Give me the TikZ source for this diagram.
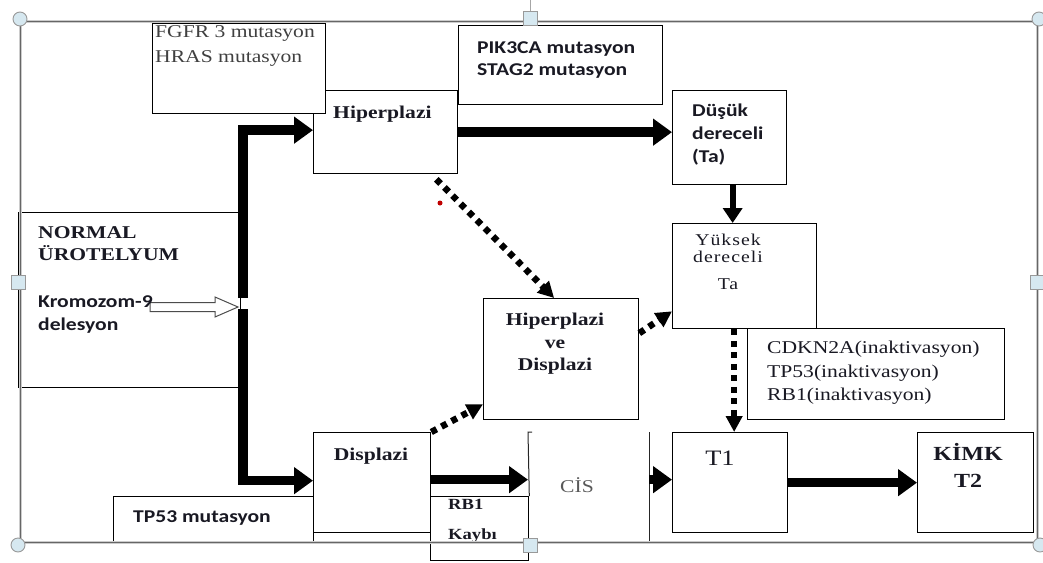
\documentclass[tikz,border=0pt]{standalone}
\usepackage{fontspec}
\setmainfont{Liberation Serif}[FakeStretch=1.2]
\newfontfamily\calib{Carlito}[FakeStretch=1.2]
\newfontfamily\wideserif{Liberation Serif}[FakeStretch=1.2, LetterSpace=6]
\usetikzlibrary{arrows.meta}
\definecolor{handlefill}{RGB}{214,232,240}
\definecolor{inkcol}{RGB}{25,25,35}

\begin{document}
\begin{tikzpicture}[x=1pt, y=-1pt,
		box/.style={draw=black, line width=1.3pt, fill=white, anchor=north west, inner sep=0pt},
		serif/.style={inner sep=0pt, text=inkcol, font=\fontsize{18}{23}\selectfont, align=left},
		serifbold/.style={serif, font=\fontsize{18}{22.5}\selectfont\bfseries},
		sans/.style={serif, font=\calib\bfseries\fontsize{18}{23}\selectfont},
		bigarrow/.style={line width=9.5pt, -{Triangle[length=19pt, width=26pt]}},
		midarrow/.style={line width=6pt, -{Triangle[length=15pt, width=19pt]}},
		dotarrow/.style={line width=6.5pt, dash pattern=on 6pt off 5.5pt, -{Triangle[length=16pt, width=16pt]}},
		handle/.style={draw=gray!80, fill=handlefill, line width=0.9pt}]
			\useasboundingbox (0,0) rectangle (1043,562);
			\node[box, minimum width=144pt, minimum height=83pt] (hip) at (313,90) {};
			\node[box, minimum width=173pt, minimum height=90pt] (fgfr) at (152,23) {};
			\node[box, minimum width=204pt, minimum height=79pt] (pik) at (458,25) {};
			\node[box, minimum width=114pt, minimum height=94pt] (dus) at (672,90) {};
			\node[box, minimum width=144pt, minimum height=105pt] (yuk) at (672,223) {};
			\node[box, minimum width=257pt, minimum height=91pt] (cdk) at (747,328) {};
			\node[box, minimum width=222pt, minimum height=175pt] (normal) at (18,212) {};
			\node[box, minimum width=155pt, minimum height=121pt] (hvd) at (483,298) {};
			\node[box, minimum width=117pt, minimum height=100pt] (dis) at (313,432) {};
			\node[box, minimum width=200pt, minimum height=47pt] (tp) at (113,496) {};
			\node[box, minimum width=98pt, minimum height=64pt] (rb) at (430,496) {};
			\node[anchor=north west, inner sep=0pt, minimum width=121pt, minimum height=111pt] (cis) at (528,432) {};
			\node[box, minimum width=115pt, minimum height=100pt] (tone) at (672,432) {};
			\node[box, minimum width=116pt, minimum height=100pt] (kimk) at (917,432) {};
			\draw[line width=1pt, black!85] ([xshift=4pt]cis.north west) -- (cis.north west) -- (rb.north east);
			\draw[line width=1pt, black!85] (cis.south west) -- (cis.south east) -- (cis.north east);
			\coordinate (forkup) at (243,298);
			\coordinate (forkdown) at (243,309);
			\coordinate (kromtip) at (238,307);
			\draw[bigarrow] (forkup) |- ([yshift=2pt]hip.west);
			\draw[bigarrow] (forkdown) |- ([yshift=2pt]dis.west);
			\draw[line width=1pt, black!70, fill=white] (kromtip) -- ++(-23,-10) -- ++(0,5.5) -- ++(-65,0) -- ++(0,9) -- ++(65,0) -- ++(0,5.5) -- cycle;
			\draw[bigarrow] (hip.east) -- (hip.east -| dus.west);
			\draw[midarrow] ([xshift=3pt]dus.south) -- ([xshift=3pt]dus.south |- yuk.north);
			\draw[bigarrow] ([yshift=3pt]dis.east) -- ([yshift=3pt]dis.east -| cis.west);
			\draw[bigarrow] ([yshift=3pt]dis.east -| cis.east) -- ([yshift=3pt]dis.east -| tone.west);
			\draw[bigarrow] (tone.east) -- (kimk.west);
			\draw[dotarrow] ([xshift=-22pt, yshift=-5pt]hip.south east) -- ([xshift=-7pt]hvd.north);
			\draw[dotarrow] (dis.north east) -- ([yshift=16pt]hvd.south west);
			\draw[dotarrow] ([yshift=26pt]hvd.east) -- ([yshift=18pt]yuk.south west);
			\draw[dotarrow] ([xshift=4pt]tone.north |- yuk.south) -- ([xshift=4pt]tone.north);
			\fill[red!75!black] (440,203) circle (2.5pt);
			\node[serif, text=black!75, anchor=north west, font=\fontsize{18}{25}\selectfont] (fgfrtxt) at (155,25) {FGFR 3 mutasyon\\HRAS mutasyon};
			\node[serifbold, anchor=base west] (hiptxt) at (333,118) {Hiperplazi};
			\node[sans, anchor=north west, font=\calib\bfseries\fontsize{18}{22}\selectfont] (piktxt) at (477,41) {PIK3CA mutasyon\\STAG2 mutasyon};
			\node[sans, anchor=north west] (dustxt) at (692,104) {Düşük\\dereceli\\(Ta)};
			\node[serif, anchor=north, align=center, font=\wideserif\fontsize{16.5}{17}\selectfont] (yuktxt) at (728,234) {Yüksek\\dereceli\\[10pt]Ta};
			\node[serifbold, anchor=north west, font=\fontsize{18}{22}\selectfont\bfseries] (normaltxt) at (38,226) {NORMAL\\ÜROTELYUM};
			\node[sans, anchor=north west] (kromtxt) at (38,295) {Kromozom-9\\delesyon};
			\node[serifbold, anchor=north, align=center] (hvdtxt) at (555,313) {Hiperplazi\\ve\\Displazi};
			\node[serifbold, anchor=base] (distxt) at (371,460) {Displazi};
			\node[sans, anchor=base west] (tptxt) at (133,522) {TP53 mutasyon};
			\node[serifbold, anchor=north west, font=\fontsize{15.5}{30}\selectfont\bfseries] (rbtxt) at (448,499) {RB1\\Kaybı};
			\node[serif, anchor=base, text=black!65] (cistxt) at (577,492) {CİS};
			\node[serif, anchor=base, font=\fontsize{22}{26}\selectfont] (tonetxt) at (720,465) {T1};
			\node[serifbold, anchor=north, align=center, font=\fontsize{20}{27}\selectfont\bfseries] (kimktxt) at (968,443) {KİMK\\T2};
			\node[serif, anchor=north west, font=\fontsize{18}{23.5}\selectfont] (cdktxt) at (767,341) {CDKN2A(inaktivasyon)\\TP53(inaktivasyon)\\RB1(inaktivasyon)};
			\draw[line width=3pt, gray!40] (20,21) rectangle (1037,542);
			\draw[line width=1pt, black!60] (20,21) rectangle (1037,542);
			\draw[gray!70, line width=1pt] (530,0) -- (530,11);
			\foreach \hx/\hy in {20/19, 1039/19, 18/545, 1040/545}
				\draw[handle] (\hx,\hy) circle (7pt);
			\foreach \hx/\hy in {530/18, 18/282, 530/545, 1037/282}
				\draw[handle] (\hx-7,\hy-7) rectangle ++(14,14);
			\end{tikzpicture}
\end{document}
